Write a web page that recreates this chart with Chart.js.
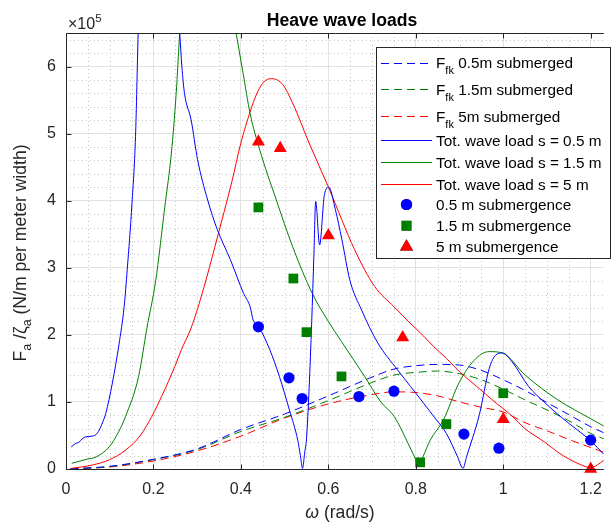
<!DOCTYPE html>
<html>
<head>
<meta charset="utf-8">
<script src="https://cdn.jsdelivr.net/npm/chart.js@4/dist/chart.umd.min.js"></script>
<style>
  html, body { margin: 0; padding: 0; background: #fff; }
</style>
</head>
<body>
<canvas id="heaveChart" width="613" height="524"></canvas>
<script>
// wave frequency (rad/s) and loads in units of 1e5 N/m per meter width

// Froude-Krylov force, shared frequency grid
const ffkOmega = [0.01, 0.1, 0.2, 0.3, 0.4, 0.5, 0.6, 0.7, 0.75, 0.8, 0.85, 0.9, 0.95, 1.0, 1.05, 1.1, 1.15, 1.2, 1.23];
const ffk05 = [0.002, 0.04, 0.145, 0.30, 0.59, 0.82, 1.09, 1.37, 1.49, 1.54, 1.56, 1.55, 1.47, 1.33, 1.17, 0.99, 0.81, 0.63, 0.54];
const ffk15 = [0.002, 0.035, 0.14, 0.29, 0.56, 0.77, 1.02, 1.29, 1.40, 1.44, 1.46, 1.42, 1.33, 1.19, 1.03, 0.88, 0.72, 0.53, 0.45];
const ffk5 = [0.002, 0.03, 0.12, 0.27, 0.49, 0.76, 0.97, 1.11, 1.15, 1.14, 1.09, 1.00, 0.92, 0.85, 0.69, 0.57, 0.44, 0.32, 0.25];

// total wave load, s = 0.5 m (values above 6.5 run off the top of the axes)
const tot05Omega = [0.012, 0.022, 0.03, 0.037, 0.045, 0.06, 0.068, 0.076, 0.084, 0.091, 0.106, 0.121, 0.133, 0.14, 0.151, 0.159, 0.165, 0.171,
  0.245, 0.26, 0.265, 0.271, 0.286, 0.301, 0.324, 0.346, 0.376, 0.406, 0.421, 0.428, 0.441, 0.466, 0.488, 0.511, 0.53, 0.536, 0.541,
  0.546, 0.55, 0.556, 0.562, 0.567, 0.571, 0.58, 0.591, 0.601, 0.616, 0.631, 0.649, 0.676, 0.713, 0.758, 0.788, 0.818, 0.845, 0.87,
  0.895, 0.908, 0.916, 0.945, 0.968, 0.983, 0.998, 1.02, 1.058, 1.095, 1.133, 1.17, 1.2, 1.23];
const tot05 = [0.33, 0.38, 0.40, 0.45, 0.48, 0.49, 0.51, 0.58, 0.70, 0.83, 1.28, 1.85, 2.42, 2.97, 3.97, 4.96, 6.5, 8.0,
  7.7, 6.5, 6.0, 5.6, 5.21, 4.61, 4.01, 3.57, 3.12, 2.62, 2.42, 2.22, 2.12, 1.78, 1.38, 0.88, 0.43, 0.2, 0.01,
  0.25, 0.45, 1.2, 2.2, 3.2, 3.99, 3.34, 4.09, 4.2, 3.87, 3.42, 2.82, 2.37, 1.88, 1.48, 1.23, 0.98, 0.75, 0.53,
  0.19, 0.01, 0.18, 0.8, 1.5, 1.70, 1.73, 1.60, 1.23, 0.99, 0.77, 0.58, 0.42, 0.22];

// total wave load, s = 1.5 m
const tot15Omega = [0.013, 0.047, 0.069, 0.099, 0.12, 0.136, 0.166, 0.185, 0.205, 0.226, 0.241, 0.252, 0.26, 0.27,
  0.36, 0.389, 0.405, 0.421, 0.443, 0.481, 0.518, 0.563, 0.6, 0.63, 0.683, 0.72, 0.751, 0.781, 0.797, 0.807,
  0.817, 0.833, 0.863, 0.9, 0.938, 0.968, 0.998, 1.05, 1.125, 1.2, 1.23];
const tot15 = [0.085, 0.145, 0.18, 0.33, 0.55, 0.78, 1.38, 2.1, 2.8, 3.91, 4.71, 5.6, 6.5, 7.6,
  7.6, 6.5, 5.9, 5.3, 4.76, 4.01, 3.32, 2.62, 2.2, 1.9, 1.38, 1.0, 0.78, 0.40, 0.18, 0.04,
  0.19, 0.43, 0.73, 1.3, 1.65, 1.75, 1.73, 1.40, 1.03, 0.75, 0.64];

// total wave load, s = 5 m
const tot5Omega = [0.013, 0.061, 0.1, 0.136, 0.17, 0.196, 0.22, 0.249, 0.264, 0.286, 0.316, 0.34, 0.361, 0.38, 0.398, 0.415,
  0.434, 0.451, 0.47, 0.496, 0.518, 0.556, 0.601, 0.66, 0.706, 0.75, 0.78, 0.818, 0.84, 0.87, 0.9, 0.945, 0.975,
  1.02, 1.05, 1.095, 1.125, 1.15, 1.175, 1.2, 1.215, 1.23];
const tot5 = [0.01, 0.06, 0.14, 0.28, 0.5, 0.78, 1.1, 1.53, 1.78, 2.1, 2.72, 3.3, 3.82, 4.3, 4.81, 5.2,
  5.56, 5.76, 5.82, 5.73, 5.46, 4.86, 4.19, 3.27, 2.72, 2.42, 2.22, 1.98, 1.83, 1.65, 1.45, 1.2, 1.03,
  0.79, 0.6, 0.40, 0.25, 0.15, 0.07, 0.02, 0.06, 0.13];

// measured points
const obs05Omega = [0.44, 0.51, 0.54, 0.67, 0.75, 0.91, 0.99, 1.2];
const obs05 = [2.12, 1.36, 1.05, 1.08, 1.16, 0.52, 0.31, 0.43];
const obs15Omega = [0.44, 0.52, 0.55, 0.63, 0.81, 0.87, 1.0];
const obs15 = [3.90, 2.84, 2.04, 1.38, 0.10, 0.67, 1.13];
const obs5Omega = [0.44, 0.49, 0.6, 0.77, 1.0, 1.2];
const obs5 = [4.88, 4.78, 3.48, 1.96, 0.74, 0.0];

const xTicks = [0, 0.2, 0.4, 0.6, 0.8, 1, 1.2];
const yTicks = [0, 1, 2, 3, 4, 5, 6];
const xMax = 1.23, yMax = 6.5;
const xMinorStep = 0.05, yMinorStep = 0.2;

const legendLabels = [
  ['F', 'fk', ' 0.5m submerged'],
  ['F', 'fk', ' 1.5m submerged'],
  ['F', 'fk', ' 5m submerged'],
  ['Tot. wave load s = 0.5 m'],
  ['Tot. wave load s = 1.5 m'],
  ['Tot. wave load s = 5 m'],
  ['0.5 m submergence'],
  ['1.5 m submergence'],
  ['5 m submergence']
];

const BLUE = '#0000ff', GREEN = '#008000', RED = '#ff0000';
const INK = '#262626';
const FAM = '"Liberation Sans", Arial, Helvetica, sans-serif';
const DASH = [8, 5];

const pts = (xs, ys) => xs.map((x, i) => ({ x: x, y: ys[i] }));

function dashed(data, color) {
  return { data: data, showLine: true, borderColor: color, borderWidth: 1, borderDash: DASH,
    pointRadius: 0, cubicInterpolationMode: 'monotone', order: 3, _kind: 'dash', _color: color };
}
function solid(data, color) {
  return { data: data, showLine: true, borderColor: color, borderWidth: 1, pointRadius: 0,
    cubicInterpolationMode: 'monotone', order: 2, _kind: 'line', _color: color };
}
function markers(data, color, style, r) {
  return { data: data, showLine: false, backgroundColor: color, borderColor: color, borderWidth: 0,
    pointStyle: style, pointRadius: r, pointHoverRadius: r, clip: false, order: 1,
    _kind: 'mark', _color: color, _style: style, _r: r };
}

function drawRich(ctx, parts, x, y) {
  for (const p of parts) {
    ctx.font = p.font;
    ctx.fillText(p.text, x, y + (p.dy || 0));
    x += ctx.measureText(p.text).width;
  }
}
function richWidth(ctx, parts) {
  let w = 0;
  for (const p of parts) { ctx.font = p.font; w += ctx.measureText(p.text).width; }
  return w;
}

const minorGrid = {
  id: 'minorGrid',
  beforeDatasetsDraw(chart) {
    const { ctx, chartArea: a, scales: { x, y } } = chart;
    ctx.save();
    ctx.strokeStyle = '#c4c4c4';
    ctx.lineWidth = 1;
    ctx.setLineDash([1, 3]);
    ctx.beginPath();
    for (let k = 1; k * xMinorStep < xMax; k++) {
      if (k % 4 === 0) continue;
      const px = Math.round(x.getPixelForValue(k * xMinorStep)) + 0.5;
      ctx.moveTo(px, a.top);
      ctx.lineTo(px, a.bottom);
    }
    for (let k = 1; k * yMinorStep < yMax; k++) {
      if (k % 5 === 0) continue;
      const py = Math.round(y.getPixelForValue(k * yMinorStep)) + 0.5;
      ctx.moveTo(a.left, py);
      ctx.lineTo(a.right, py);
    }
    ctx.stroke();
    ctx.restore();
  }
};

const axesBox = {
  id: 'axesBox',
  afterDatasetsDraw(chart) {
    const { ctx, chartArea: a, scales: { x, y } } = chart;
    const L = Math.round(a.left) + 0.5, B = Math.round(a.bottom) + 0.5, T = Math.round(a.top) + 0.5;
    ctx.save();
    ctx.strokeStyle = INK;
    ctx.lineWidth = 1;
    ctx.beginPath();
    ctx.moveTo(L, T); ctx.lineTo(a.right, T);
    ctx.moveTo(L, T); ctx.lineTo(L, B);
    ctx.moveTo(L, B); ctx.lineTo(a.right, B);
    for (const v of xTicks) {
      const px = Math.round(x.getPixelForValue(v)) + 0.5;
      ctx.moveTo(px, B); ctx.lineTo(px, B - 5);
      ctx.moveTo(px, T); ctx.lineTo(px, T + 5);
    }
    for (const v of yTicks) {
      const py = Math.round(y.getPixelForValue(v)) + 0.5;
      ctx.moveTo(L, py); ctx.lineTo(L + 5, py);
    }
    ctx.stroke();
    ctx.restore();
  },
  afterDraw(chart) {
    const { ctx, chartArea: a } = chart;
    ctx.save();
    ctx.textBaseline = 'alphabetic';

    // title
    ctx.fillStyle = '#000';
    ctx.font = 'bold 17.6px ' + FAM;
    ctx.textAlign = 'center';
    ctx.fillText('Heave wave loads', 342, 26);
    ctx.textAlign = 'left';

    // exponent
    ctx.fillStyle = INK;
    drawRich(ctx, [
      { text: '\u00d710', font: '16px ' + FAM },
      { text: '5', font: '11.5px ' + FAM, dy: -7 }
    ], a.left + 2, 29);

    // x label
    const xl = [
      { text: '\u03c9', font: 'italic 17.6px ' + FAM },
      { text: ' (rad/s)', font: '17.6px ' + FAM }
    ];
    drawRich(ctx, xl, 340 - richWidth(ctx, xl) / 2, 518);

    // y label
    const yl = [
      { text: 'F', font: '17.6px ' + FAM },
      { text: 'a', font: '12.5px ' + FAM, dy: 5 },
      { text: ' /\u03b6', font: '17.6px ' + FAM },
      { text: 'a', font: '12.5px ' + FAM, dy: 5 },
      { text: ' (N/m per meter width)', font: '17.6px ' + FAM }
    ];
    ctx.translate(26, 253);
    ctx.rotate(-Math.PI / 2);
    drawRich(ctx, yl, -richWidth(ctx, yl) / 2, 0);
    ctx.setTransform(1, 0, 0, 1, 0, 0);

    // legend
    const bx = 376, by = 47, bw = 234, bh = 211;
    ctx.fillStyle = '#fff';
    ctx.fillRect(bx, by, bw, bh);
    ctx.strokeStyle = INK;
    ctx.lineWidth = 1;
    ctx.strokeRect(bx + 0.5, by + 0.5, bw, bh);

    const rowY = [62.5, 89.3, 116.3, 140, 162.3, 184, 204.5, 225.7, 246.7];
    chart.data.datasets.forEach((d, i) => {
      const yy = rowY[i];
      ctx.save();
      if (d._kind === 'mark') {
        Chart.helpers.drawPoint(ctx, {
          pointStyle: d._style, radius: d._r, borderWidth: 0, rotation: 0
        }, 406.5, yy);
        ctx.fillStyle = d._color;
        ctx.fill();
      } else {
        ctx.strokeStyle = d._color;
        ctx.lineWidth = 1;
        ctx.setLineDash(d._kind === 'dash' ? DASH : []);
        ctx.beginPath();
        ctx.moveTo(381, Math.round(yy) + 0.5);
        ctx.lineTo(432, Math.round(yy) + 0.5);
        ctx.stroke();
      }
      ctx.restore();

      const lab = legendLabels[i];
      ctx.fillStyle = '#000';
      const parts = lab.length === 3
        ? [{ text: lab[0], font: '15.3px ' + FAM }, { text: lab[1], font: '11px ' + FAM, dy: 6 }, { text: lab[2], font: '15.3px ' + FAM }]
        : [{ text: lab[0], font: '15.3px ' + FAM }];
      drawRich(ctx, parts, 436, yy + 5.5);
    });
    ctx.restore();
  }
};

const ctx = document.getElementById('heaveChart').getContext('2d');
new Chart(ctx, {
  type: 'scatter',
  data: {
    datasets: [
      dashed(pts(ffkOmega, ffk05), BLUE),
      dashed(pts(ffkOmega, ffk15), GREEN),
      dashed(pts(ffkOmega, ffk5), RED),
      solid(pts(tot05Omega, tot05), BLUE),
      solid(pts(tot15Omega, tot15), GREEN),
      solid(pts(tot5Omega, tot5), RED),
      markers(pts(obs05Omega, obs05), BLUE, 'circle', 5.6),
      markers(pts(obs15Omega, obs15), GREEN, 'rect', 6.9),
      markers(pts(obs5Omega, obs5), RED, 'triangle', 7.5)
    ]
  },
  options: {
    responsive: false,
    animation: false,
    events: [],
    layout: { padding: { top: 33, left: 0, right: 0, bottom: 0 } },
    plugins: { legend: { display: false }, tooltip: { enabled: false }, title: { display: false } },
    scales: {
      x: {
        type: 'linear', min: 0, max: xMax,
        afterBuildTicks: s => { s.ticks = xTicks.map(v => ({ value: v })); },
        afterFit: s => { s.height = 55; },
        grid: { color: '#e2e2e2', drawTicks: false },
        border: { display: false },
        ticks: { color: INK, font: { family: FAM, size: 16 }, padding: 11, maxRotation: 0, autoSkip: false,
          callback: v => String(v) }
      },
      y: {
        type: 'linear', min: 0, max: yMax,
        afterBuildTicks: s => { s.ticks = yTicks.map(v => ({ value: v })); },
        afterFit: s => { s.width = 66; },
        grid: { color: '#e2e2e2', drawTicks: false },
        border: { display: false },
        ticks: { color: INK, font: { family: FAM, size: 16 }, padding: 10, autoSkip: false,
          callback: v => String(v) }
      }
    }
  },
  plugins: [minorGrid, axesBox]
});
</script>
</body>
</html>
